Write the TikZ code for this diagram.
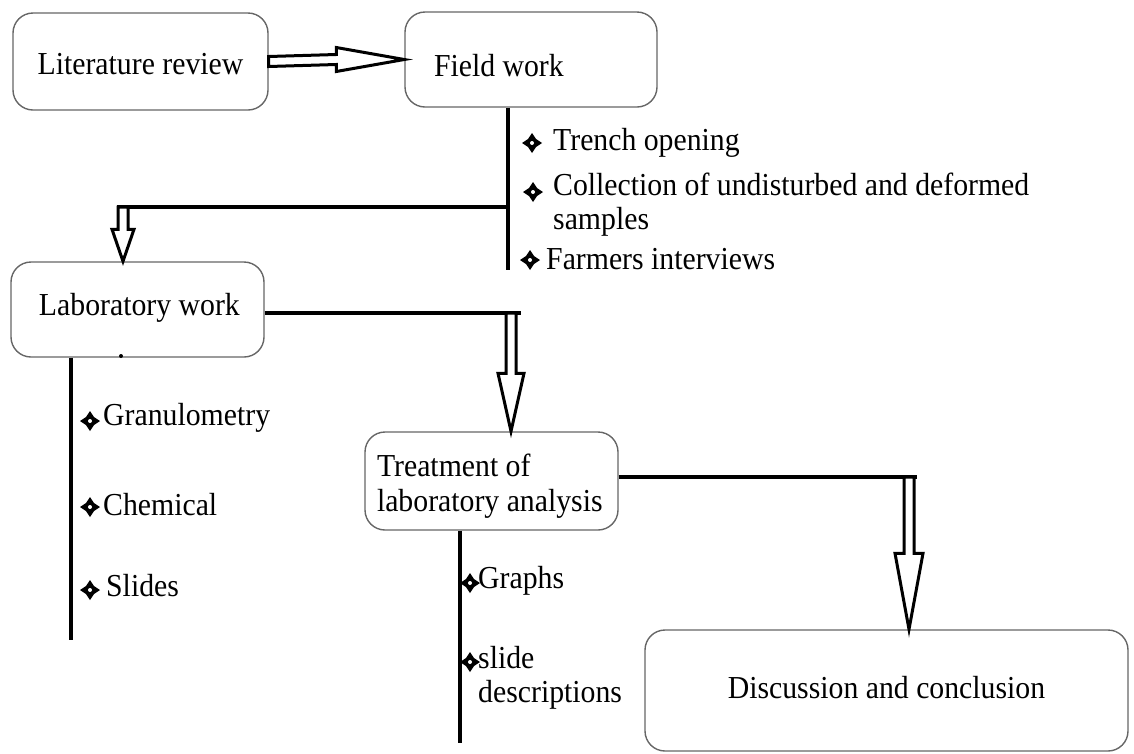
\documentclass[tikz,border=0pt]{standalone}
\usepackage{fontspec}
\setmainfont[FakeStretch=0.93]{Liberation Serif}
\usetikzlibrary{calc}
\newcommand\varr[4]{%
  \draw[hol] ($(#1)+(-5,0)$) -- ($(#2)+(-5,-#3)$) -- ($(#2)+(-#4,-#3)$) -- (#2)
    -- ($(#2)+(#4,-#3)$) -- ($(#2)+(5,-#3)$) -- ($(#1)+(5,0)$) -- cycle;}
\newcommand\harr[4]{%
  \draw[hol] ($(#1)+(0,-5)$) -- ($(#2)+(-#3,-5)$) -- ($(#2)+(-#3,-#4)$) -- (#2)
    -- ($(#2)+(-#3,#4)$) -- ($(#2)+(-#3,5)$) -- ($(#1)+(0,5)$) -- cycle;}
\newcommand\dn[2]{\raisebox{#1}[\height][\depth]{#2}}
\begin{document}
\begin{tikzpicture}[x=1pt,y=-1pt,
  box/.style={draw=black!60, line width=1.4pt, rounded corners=20pt,
    font=\fontsize{32}{35}\selectfont, inner sep=0pt},
  conn/.style={line width=3.5pt},
  hol/.style={draw, line width=3pt, fill=white, line join=miter},
  itm/.style={anchor=west, inner sep=0pt, font=\fontsize{32}{34}\selectfont, align=left},
  bul/.pic={\fill (-10,0) -- (-4,-4) -- (0,-10) -- (4,-4) -- (10,0) -- (4,4) -- (0,10) -- (-4,4) -- cycle;
            \fill[white] (0,0) circle (2);}]
\useasboundingbox (0,0) rectangle (1134,753);

% boxes
\node[box, minimum width=255pt, minimum height=97pt] (lit) at (140.5,61.5)
  {\dn{-3pt}{Literature review}};
\node[box, minimum width=252pt, minimum height=95pt] (field) at (531,59.5)
  {\dn{-6pt}{\makebox[252pt][l]{\hspace*{29pt}Field work}}};
\node[box, minimum width=253pt, minimum height=95pt] (lab) at (137.5,309.5)
  {\dn{2pt}{\makebox[253pt][l]{\hspace*{28pt}Laboratory work}}};
\node[box, minimum width=253pt, minimum height=98pt] (treat) at (491.5,481)
  {\dn{-6pt}{\makebox[253pt][l]{\hspace*{12pt}\begin{tabular}{@{}l@{}}Treatment of\\laboratory analysis\end{tabular}}}};
\node[box, minimum width=483pt, minimum height=121pt] (disc) at (886.5,690.5)
  {\dn{3pt}{Discussion and conclusion}};

% coordinates
\coordinate (fend) at (508,270);
\coordinate (fj) at (508,207);
\coordinate (fk) at (117,207);
\coordinate (fa) at (123,207);
\coordinate (lj) at (521,313);
\coordinate (la) at (511,313);
\coordinate (lend) at (71,640);
\coordinate (tj) at (917,477);
\coordinate (ta) at (909,477);
\coordinate (tend) at (460,743);

% connectors
\harr{lit.east}{field.west}{68}{12}
\draw[conn] (field.south -| fend) -- (fend);
\draw[conn] (fj) -- (fk);
\varr{fa}{lab.north -| fa}{32}{11}
\draw[conn] (lab.east |- lj) -- (lj);
\varr{la}{treat.north -| la}{58}{13}
\draw[conn] (lab.south -| lend) -- (lend);
\fill (121,356) circle (2);
\draw[conn] (treat.east |- tj) -- (tj);
\varr{ta}{disc.north -| ta}{76}{14}
\draw[conn] (treat.south -| tend) -- (tend);

% field items
\pic at (532,143) {bul};
\node[itm] (t1) at (553,143) {Trench opening};
\pic at (533,192) {bul};
\node[itm] (t2) at (553,205) {Collection of undisturbed and deformed\\samples};
\pic at (530,260) {bul};
\node[itm] (t3) at (546,259) {Farmers interviews};

% lab items
\pic at (90,421) {bul};
\node[itm] (l1) at (103,418) {Granulometry};
\pic at (90,507) {bul};
\node[itm] (l2) at (103,505) {Chemical};
\pic at (90,590) {bul};
\node[itm] (l3) at (106,586) {Slides};

% treatment items
\pic at (470,583) {bul};
\node[itm] (r1) at (478,581) {Graphs};
\pic at (470,662) {bul};
\node[itm] (r2) at (478,678) {slide\\descriptions};
\end{tikzpicture}
\end{document}
